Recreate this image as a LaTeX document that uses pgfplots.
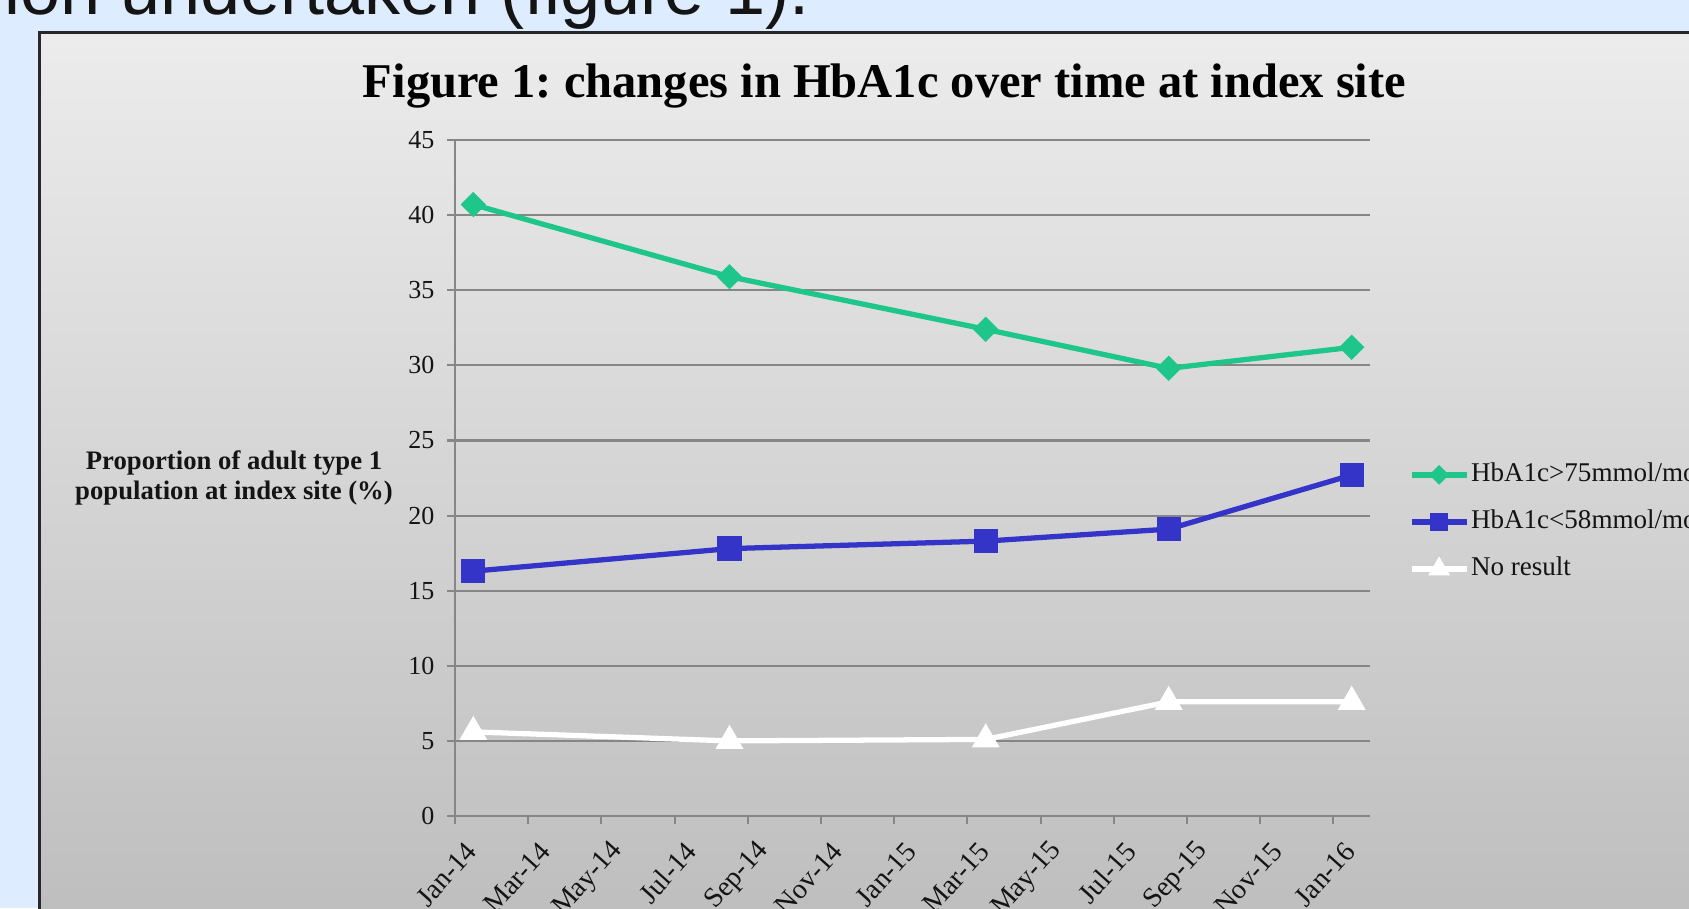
\documentclass[border=0pt]{standalone}
\usepackage{fontspec}
\setmainfont{Liberation Serif}
\newfontfamily\arialfont{Liberation Sans}
\usepackage{pgfplots}
\pgfplotsset{compat=1.18}
\definecolor{slidebg}{RGB}{222,236,255}
\definecolor{hgreen}{RGB}{30,198,140}
\definecolor{hblue}{RGB}{52,52,200}
\definecolor{gridgray}{RGB}{134,134,134}
\definecolor{txt}{RGB}{20,20,20}
\definecolor{bgtop}{RGB}{236,236,236}
\definecolor{bgbot}{RGB}{190,190,190}
\definecolor{frame}{RGB}{40,40,40}
\begin{document}
\begin{tikzpicture}
\useasboundingbox (0,0) rectangle (16.89,9.08);
\clip (0,0) rectangle (16.89,9.08);
\fill[slidebg] (0,0) rectangle (16.89,9.08);
\node[anchor=base east, font=\arialfont\fontsize{20.5}{24}\selectfont, text=txt, inner sep=0pt] at (8.10,8.94) {ion undertaken (figure 1).};
\shade[top color=bgtop, bottom color=bgbot] (0.39,-0.1) rectangle (17,8.76);
\draw[line width=0.03cm, frame] (0.395,-0.2) -- (0.395,8.755) -- (17.2,8.755);
\begin{axis}[
  at={(4.55cm,0.92cm)}, anchor=south west,
  scale only axis, width=9.15cm, height=6.76cm,
  xmin=0, xmax=25, ymin=0, ymax=45,
  xtick={0,2,...,24},
  xticklabels={Jan-14,Mar-14,May-14,Jul-14,Sep-14,Nov-14,Jan-15,Mar-15,May-15,Jul-15,Sep-15,Nov-15,Jan-16},
  ytick={0,5,...,45},
  axis x line*=bottom, axis y line*=left,
  axis line style={gridgray, line width=0.6pt, -},
  ymajorgrids, grid style={gridgray, line width=0.6pt},
  tick align=outside, major tick length=0.08cm,
  tick style={gridgray, line width=0.6pt},
  /pgf/number format/assume math mode=true,
  ticklabel style={text=txt},
  yticklabel style={font=\fontsize{7.4}{9}\selectfont, anchor=east, inner sep=0pt, xshift=-0.12cm},
  xticklabel style={font=\fontsize{8}{9}\selectfont, xshift=0.17cm, yshift=-0.22cm, rotate=48, anchor=east, inner sep=0pt},
  title={Figure 1:\ changes in HbA1c over time at index site},
  every axis title/.style={at={(axis description cs:0.4694,1.0636)}, anchor=base, font=\bfseries\fontsize{13.8}{16}\selectfont, inner sep=0pt, text=black},
  ylabel={Proportion of adult type 1\\population at index site (\%)},
  every axis y label/.style={at={(axis description cs:-0.2415,0.5)}, anchor=center, align=center, font=\bfseries\fontsize{7.6}{8.6}\selectfont, text=txt},
  clip=false,
  legend style={at={(axis description cs:1.0426,0.525)}, anchor=north west, draw=none, fill=none, inner sep=0pt, outer sep=0pt, font=\fontsize{7.7}{9}\selectfont, row sep=0.195cm, nodes={inner sep=0.5pt, text=txt}},
  legend cell align=left,
  legend image code/.code={\draw[mark repeat=2,mark phase=2,#1, every mark/.append style={scale=0.68}] plot coordinates {(0cm,0cm)(0.275cm,0cm)(0.55cm,0cm)};},
]
\addplot[hgreen, line width=1.5pt, mark=square*, mark size=1.8pt, mark options={fill=hgreen, solid, rotate=45}]
  coordinates {(0.5,40.7) (7.5,35.9) (14.5,32.4) (19.5,29.8) (24.5,31.2)};
\addlegendentry{HbA1c>75mmol/mol}
\addplot[hblue, line width=1.5pt, mark=square*, mark size=2.7pt, mark options={fill=hblue, solid}]
  coordinates {(0.5,16.3) (7.5,17.8) (14.5,18.3) (19.5,19.1) (24.5,22.7)};
\addlegendentry{HbA1c<58mmol/mol}
\addplot[white, line width=1.5pt, mark=triangle*, mark size=3.1pt, mark options={fill=white, solid}]
  coordinates {(0.5,5.6) (7.5,5.0) (14.5,5.1) (19.5,7.6) (24.5,7.6)};
\addlegendentry{No result}
\end{axis}
\end{tikzpicture}
\end{document}
